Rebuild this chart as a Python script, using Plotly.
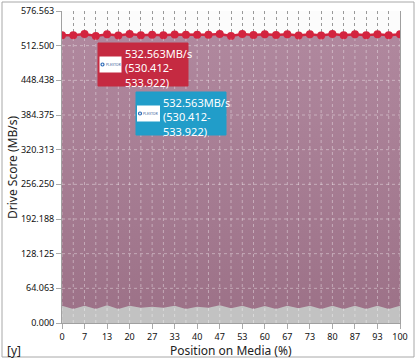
import base64
import plotly.graph_objects as go

# ---------------- data ----------------
positions = [0, 3.333, 6.667, 10, 13.333, 16.667, 20, 23.333, 26.667, 30,
             33.333, 36.667, 40, 43.333, 46.667, 50, 53.333, 56.667, 60, 63.333,
             66.667, 70, 73.333, 76.667, 80, 83.333, 86.667, 90, 93.333, 96.667, 100]
drive_score = [531.9, 531.9, 533.9, 530.4, 533.4, 531.3, 533.9, 531.9, 532.8, 531.9,
               533.2, 532.8, 532.8, 532.8, 533.9, 530.4, 533.9, 532.4, 533.4, 532.4,
               533.4, 531.3, 533.4, 531.3, 533.9, 531.9, 533.4, 531.9, 533.4, 531.9, 533.4]
lower_band = [32.0, 25.9, 32.0, 25.9, 32.6, 25.9, 32.0, 28.3, 30.1, 28.3,
              31.7, 25.9, 30.1, 28.3, 32.6, 27.2, 32.0, 25.9, 31.4, 25.9,
              32.0, 27.2, 32.0, 25.9, 32.0, 25.9, 32.0, 25.9, 32.0, 25.9, 32.0]
x_tickvals = [0, 6.667, 13.333, 20, 26.667, 33.333, 40, 46.667, 53.333, 60,
              66.667, 73.333, 80, 86.667, 93.333, 100]
x_ticktext = ["0", "7", "13", "20", "27", "33", "40", "47", "53", "60",
              "67", "73", "80", "87", "93", "100"]
y_tickvals = [0, 64.063, 128.125, 192.188, 256.25, 320.313, 384.375, 448.438, 512.5, 576.563]
y_ticktext = ["0.000", "64.063", "128.125", "192.188", "256.250", "320.313",
              "384.375", "448.438", "512.500", "576.563"]
avg_score = 532.563
min_score = 530.412
max_score = 533.922

# ---------------- layout geometry (pixels) ----------------
W, H = 418, 360
ML, MR, MT, MB = 62, 18, 11, 37
PW = W - ML - MR
PH = H - MT - MB


def px(x):
    return (x - ML) / PW


def py(y):
    return (H - MB - y) / PH


FONT = "Noto Sans"
GRID = "#9a9a9a"

fig = go.Figure()

fig.add_trace(go.Scatter(
    x=positions, y=drive_score, mode="lines", line=dict(width=0, color="rgba(0,0,0,0)"),
    fill="tozeroy",
    fillgradient=dict(type="vertical", start=0, stop=max(drive_score),
                      colorscale=[[0, "rgb(156,113,135)"], [1, "rgb(176,136,158)"]]),
    hoverinfo="skip", showlegend=False))
fig.add_trace(go.Scatter(
    x=positions, y=lower_band, mode="lines", line=dict(width=0, color="rgba(0,0,0,0)"),
    fill="tozeroy", fillcolor="#c2c2c2", hoverinfo="skip", showlegend=False))
fig.add_trace(go.Scatter(
    x=positions, y=drive_score, mode="lines+markers",
    line=dict(color="#d3243f", width=2.5),
    marker=dict(color="#d3243f", size=8),
    showlegend=False))

shapes = []
# light dotted grid over the filled area
top_lim = min(drive_score) - 5
for xv in positions:
    shapes.append(dict(type="line", xref="x", yref="y", x0=xv, x1=xv, y0=0, y1=top_lim,
                       line=dict(color="rgba(255,255,255,0.38)", width=1, dash="dot"),
                       layer="above"))
for yv in y_tickvals:
    if 0 < yv < top_lim:
        shapes.append(dict(type="line", xref="x", yref="y", x0=0, x1=100, y0=yv, y1=yv,
                           line=dict(color="rgba(255,255,255,0.38)", width=1, dash="dot"),
                           layer="above"))
# outer border
shapes.append(dict(type="rect", xref="paper", yref="paper",
                   x0=px(2), x1=px(414), y0=py(357), y1=py(2),
                   line=dict(color="#a8a8a8", width=1), fillcolor="rgba(0,0,0,0)"))

annotations = []


def tooltip(x0, y0, x1, y1, color, lx0, ly0, lx1, ly1, tx):
    shapes.append(dict(type="rect", xref="paper", yref="paper",
                       x0=px(x0), x1=px(x1), y0=py(y1), y1=py(y0),
                       fillcolor=color, line=dict(color=color, width=1), layer="above"))
    # logo: white tile, ring mark and tiny brand text
    shapes.append(dict(type="rect", xref="paper", yref="paper",
                       x0=px(lx0), x1=px(lx1), y0=py(ly1), y1=py(ly0),
                       fillcolor="white", line=dict(width=0), layer="above"))
    cy = (ly0 + ly1) / 2
    shapes.append(dict(type="circle", xref="paper", yref="paper",
                       x0=px(lx0 + 1.5), x1=px(lx0 + 4.5), y0=py(cy + 1.5), y1=py(cy - 1.5),
                       fillcolor="white", line=dict(color="#2a6ab8", width=1.2),
                       layer="above"))
    annotations.append(dict(xref="paper", yref="paper", x=px(lx0 + 5), y=py(cy),
                            xanchor="left", yanchor="middle", text="PLEXTOR",
                            showarrow=False, borderpad=0,
                            font=dict(size=3.5, color="#3a5c9a", family=FONT)))
    annotations.append(dict(xref="paper", yref="paper", x=px(tx), y=py((y0 + y1) / 2 + 3),
                            xanchor="left", yanchor="middle", align="left", showarrow=False,
                            borderpad=0,
                            text=f"{avg_score:.3f}MB/s<br>({min_score:.3f}-<br>{max_score:.3f})",
                            font=dict(size=11, color="white", family=FONT)))


tooltip(98, 43, 188, 86, "#c52a41", 99.5, 56.5, 121.5, 72.5, 124)
tooltip(136, 92, 226, 135, "#219dc9", 137, 105.5, 160, 121.5, 162)

annotations.append(dict(xref="paper", yref="paper", x=px(5), y=py(351), xanchor="left",
                        yanchor="middle", text="[y]", showarrow=False,
                        font=dict(size=12, color="#222", family=FONT)))
annotations.append(dict(xref="paper", yref="paper", x=0.5, y=py(350), xanchor="center",
                        yanchor="middle", text="Position on Media (%)", showarrow=False,
                        font=dict(size=12, color="#222", family=FONT)))
annotations.append(dict(xref="paper", yref="paper", x=px(12), y=0.5, xanchor="center",
                        yanchor="middle", text="Drive Score (MB/s)", showarrow=False,
                        textangle=-90,
                        font=dict(size=12, color="#222", family=FONT)))

fig.update_layout(
    width=W, height=H, margin=dict(l=ML, r=MR, t=MT, b=MB, autoexpand=False),
    paper_bgcolor="white", plot_bgcolor="#fcfcfc",
    font=dict(family=FONT, color="#111"),
    shapes=shapes, annotations=annotations,
    xaxis=dict(range=[0, 100], tickvals=x_tickvals, ticktext=x_ticktext,
               tickfont=dict(size=9, color="#111"), automargin=False,
               showgrid=True, gridcolor=GRID, griddash="dot", gridwidth=1,
               minor=dict(tickvals=positions, showgrid=True, gridcolor=GRID,
                          griddash="dot", ticks=""),
               ticks="outside", ticklen=5, tickcolor="#aaa",
               showline=True, linecolor="#a0a0a0", linewidth=1, zeroline=False),
    yaxis=dict(range=[0, 576.563], tickvals=y_tickvals, ticktext=y_ticktext,
               tickfont=dict(size=9, color="#111"), automargin=False,
               showgrid=True, gridcolor=GRID, griddash="dot", gridwidth=1,
               ticks="outside", ticklen=5, tickcolor="#aaa",
               showline=True, linecolor="#a0a0a0", linewidth=1, mirror=True,
               zeroline=False),
)

fig.write_html("out.html", config={"displayModeBar": False},
               post_script="document.body.style.margin='0';")
